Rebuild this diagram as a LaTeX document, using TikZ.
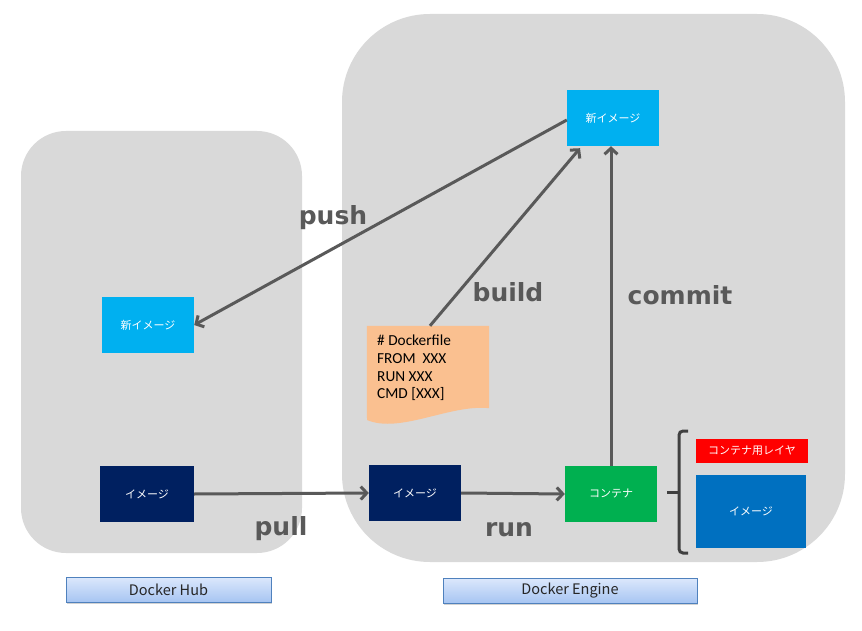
\documentclass[tikz,border=0pt]{standalone}
\usepackage{fontspec}
\setmainfont{DejaVu Sans}
\newfontfamily\jpfont{Noto Sans CJK JP}
\newfontfamily\labfont{DejaVu Sans}
\newfontfamily\calfont{Carlito}
\usetikzlibrary{arrows.meta,calc,shadows}
\definecolor{regiongray}{HTML}{D9D9D9}
\definecolor{arrgray}{HTML}{595959}
\definecolor{skyblue}{HTML}{00B0F0}
\definecolor{navy}{HTML}{002060}
\definecolor{cgreen}{HTML}{00B050}
\definecolor{cblue}{HTML}{0070C0}
\definecolor{peach}{HTML}{FAC090}
\definecolor{btnborder}{HTML}{4F81BD}
\definecolor{btntop}{HTML}{DCE8FC}
\definecolor{btnbot}{HTML}{A7C5F2}
\tikzset{
  imgbox/.style={minimum width=92pt,minimum height=56pt,inner sep=0pt,text=white,font=\jpfont\fontsize{11}{13}\selectfont},
  flowarrow/.style={draw=arrgray,line width=3pt,-{Straight Barb[length=6pt,width=13pt,line width=3pt]}},
  oplabel/.style={text=arrgray,font=\labfont\bfseries\fontsize{25}{29}\selectfont,inner sep=0pt},
  button/.style={draw=btnborder,line width=0.8pt,top color=btntop,bottom color=btnbot,inner sep=0pt,
    drop shadow={shadow xshift=1pt,shadow yshift=-1.5pt,fill=black!35},font=\jpfont\fontsize{14.5}{16}\selectfont,text=black!85}
}
\begin{document}
\begin{tikzpicture}[x=1pt,y=-1pt]
\useasboundingbox (0,0) rectangle (862,631);
\fill[white] (0,0) rectangle (862,631);
% regions
\fill[regiongray,rounded corners=45pt] (21,131) rectangle (302,553);
\fill[regiongray,rounded corners=88pt] (342,14) rectangle (845,562);
% image nodes
\node[imgbox,fill=skyblue] (hubnew) at (148,325) {新イメージ};
\node[imgbox,fill=navy,minimum width=94pt] (hubimg) at (147,494) {イメージ};
\node[imgbox,fill=navy] (engimg) at (415,493) {イメージ};
\node[imgbox,fill=cgreen] (cont) at (611,494) {コンテナ};
\node[imgbox,fill=skyblue] (engnew) at (613,118) {新イメージ};
\node[imgbox,fill=red,minimum width=112pt,minimum height=24pt] (layer) at (752,451) {コンテナ用レイヤ};
\node[imgbox,fill=cblue,minimum width=110pt,minimum height=73pt] (bimg) at (751,511.5) {イメージ};
% dockerfile
\node[minimum width=122pt,minimum height=82pt,inner sep=0pt] (df) at (428,367) {};
\fill[peach] (df.north west) -- (df.north east) -- (df.south east)
  .. controls (450,404) and (400,434) .. (367,420) -- cycle;
\node[anchor=north west,align=left,inner sep=0pt,font=\calfont\fontsize{15.3}{17.7}\selectfont,text=black]
  (dftext) at (377,335) {\# Dockerfile\\FROM\ \ XXX\\RUN XXX\\CMD [XXX]};
% bracket
\coordinate (brtop) at (688,431);
\coordinate (brbot) at (688,553);
\coordinate (brmid) at (667,492);
\draw[line width=3pt,draw=black!75,rounded corners=4pt] (brtop) -- (679,431) -- (679,553) -- (brbot);
\draw[line width=3pt,draw=black!75] (679,492) -- (brmid);
% arrows
\draw[flowarrow] (hubimg.east) -- (engimg.west);
\draw[flowarrow] (engimg.east) -- (cont.west);
\draw[flowarrow] (cont.north) -- (cont.north |- engnew.south);
\draw[flowarrow] ([xshift=2pt]df.north) -- ([xshift=-33pt,yshift=-2pt]engnew.south);
\draw[flowarrow] ([yshift=-2pt]engnew.west) -- (hubnew.east);
% labels
\node[oplabel] (lpush) at (333,218) {push};
\node[oplabel] (lbuild) at (508,292) {build};
\node[oplabel] (lcommit) at (680,295) {commit};
\node[oplabel] (lpull) at (281,529) {pull};
\node[oplabel] (lrun) at (509,530) {run};
% buttons
\node[button,minimum width=205pt,minimum height=25pt] (hubbtn) at (168.5,589.5) {Docker Hub};
\node[button,minimum width=254pt,minimum height=25pt] (engbtn) at (570,590.5) {Docker Engine};
\end{tikzpicture}
\end{document}
